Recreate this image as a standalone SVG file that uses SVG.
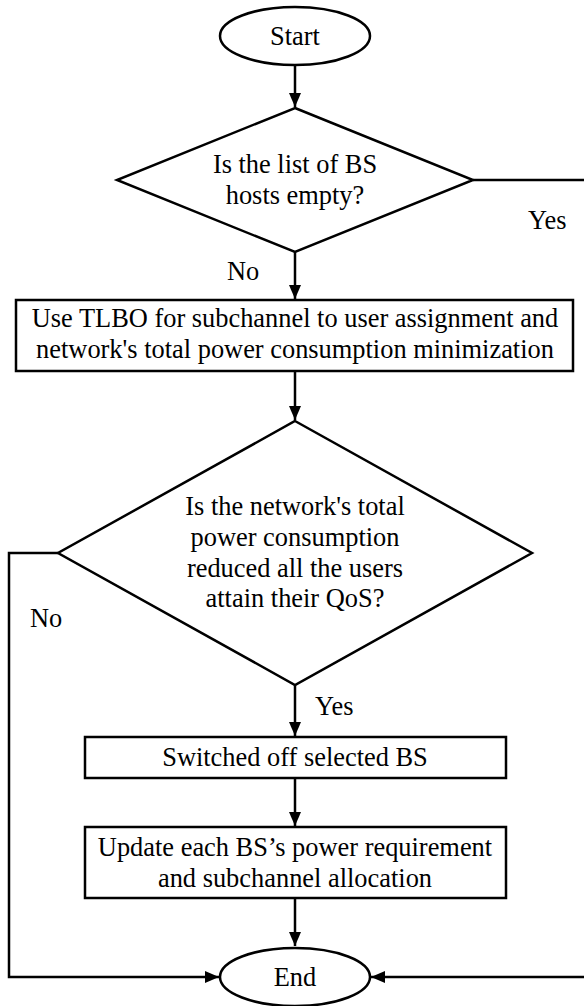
<svg xmlns="http://www.w3.org/2000/svg" width="584" height="1006" viewBox="0 0 584 1006">
<style>
.s{fill:#fff;stroke:#000;stroke-width:2.5}
.c{fill:none;stroke:#000;stroke-width:2.5}
text{font-family:"Liberation Serif","Times New Roman",serif;font-size:26.4px;fill:#000}
.m{text-anchor:middle}
</style>
<defs>
<marker id="ah" markerUnits="userSpaceOnUse" markerWidth="15" markerHeight="13" refX="14" refY="6" orient="auto">
<path d="M0,0 L14,6 L0,12 z" fill="#000"/>
</marker>
</defs>
<rect width="584" height="1006" fill="#fff"/>
<g id="connectors">
<path class="c" d="M295,65 V107" marker-end="url(#ah)"/>
<path class="c" d="M295,252 V299" marker-end="url(#ah)"/>
<path class="c" d="M295,371 V420" marker-end="url(#ah)"/>
<path class="c" d="M295,685 V736" marker-end="url(#ah)"/>
<path class="c" d="M295,778 V826" marker-end="url(#ah)"/>
<path class="c" d="M295,898 V946" marker-end="url(#ah)"/>
<path class="c" d="M58,553 H9 V977 H219" marker-end="url(#ah)"/>
<path class="c" d="M473,180 H586 V977 H371" marker-end="url(#ah)"/>
<text x="528" y="229">Yes</text>
<text x="227" y="280">No</text>
<text x="30" y="627">No</text>
<text x="315" y="715">Yes</text>
</g>
<g id="start">
<ellipse class="s" cx="295" cy="36" rx="75" ry="29"/>
<text class="m" x="295" y="45">Start</text>
</g>
<g id="decision1">
<polygon class="s" points="295,108 473,180 295,252 117,180"/>
<text class="m" x="295" y="173">Is the list of BS</text>
<text class="m" x="295" y="204">hosts empty?</text>
</g>
<g id="tlbo">
<rect class="s" x="16" y="300" width="557" height="71"/>
<text class="m" x="295" y="327">Use TLBO for subchannel to user assignment and</text>
<text class="m" x="295" y="358">network's total power consumption minimization</text>
</g>
<g id="decision2">
<polygon class="s" points="295,421 532,553 295,685 58,553"/>
<text class="m" x="295" y="515">Is the network's total</text>
<text class="m" x="295" y="546">power consumption</text>
<text class="m" x="295" y="577">reduced all the users</text>
<text class="m" x="295" y="607">attain their QoS?</text>
</g>
<g id="switch">
<rect class="s" x="85" y="737" width="421" height="41"/>
<text class="m" x="295" y="766">Switched off selected BS</text>
</g>
<g id="update">
<rect class="s" x="85" y="827" width="421" height="71"/>
<text class="m" x="295" y="856">Update each BS’s power requirement</text>
<text class="m" x="295" y="887">and subchannel allocation</text>
</g>
<g id="end">
<ellipse class="s" cx="295" cy="977" rx="75" ry="29"/>
<text class="m" x="295" y="986">End</text>
</g>
</svg>
